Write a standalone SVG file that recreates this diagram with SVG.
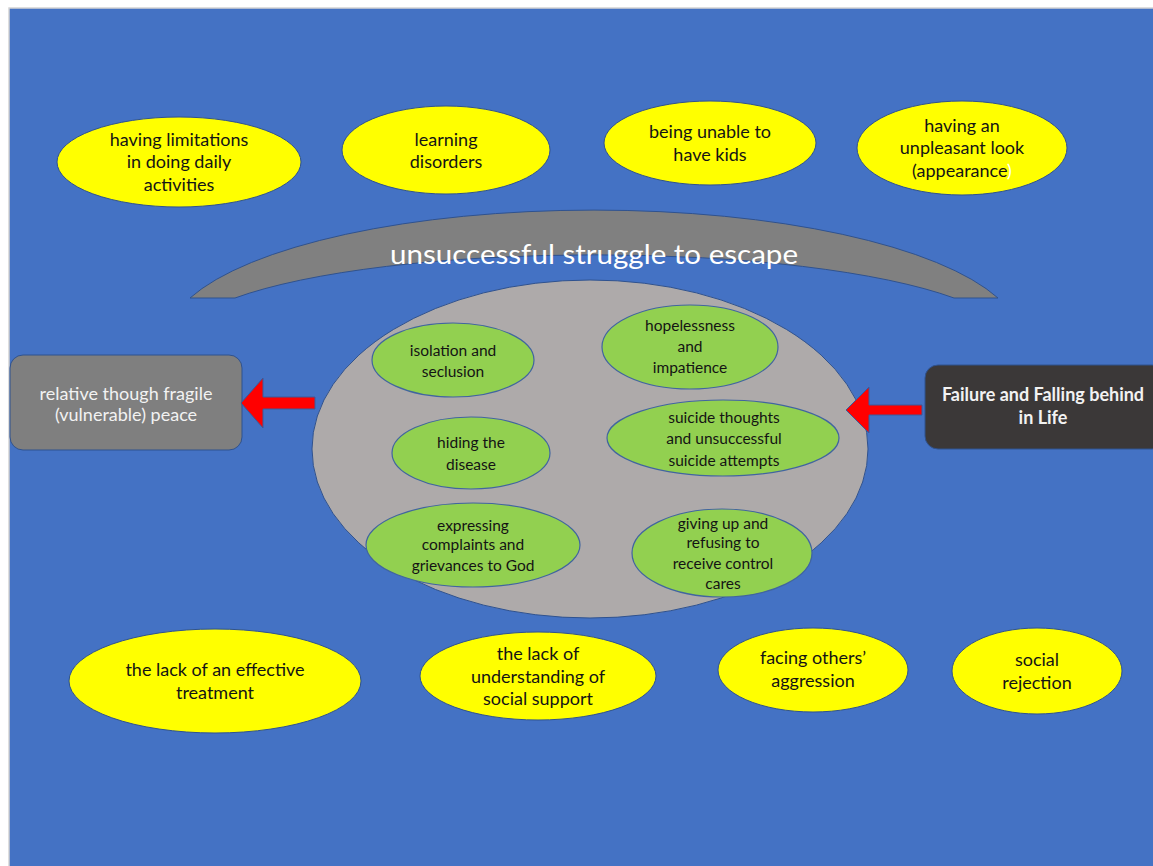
<svg xmlns="http://www.w3.org/2000/svg" width="1153" height="866" viewBox="0 0 1153 866">
<style>
.y{fill:#FFFF00;stroke:#2F528F;stroke-width:1}
.g{fill:#92D050;stroke:#41659F;stroke-width:1.2}
.ty{font-family:Lato,"Liberation Sans",sans-serif;font-size:18px;fill:#141414;text-anchor:middle}
.tg{font-family:Lato,"Liberation Sans",sans-serif;font-size:15.5px;fill:#141414;text-anchor:middle}
.tw{font-family:Lato,"Liberation Sans",sans-serif;font-size:18px;fill:#F2F2F2;text-anchor:middle}
.arr{fill:#FF0000;stroke:#3A5A9A;stroke-width:1}
</style>
<rect x="0" y="0" width="1153" height="866" fill="#FFFFFF"/>
<rect x="9" y="8" width="1150" height="865" fill="#4472C4" stroke="#D4D4D4" stroke-width="1.5"/>

<g id="arch">
<path d="M190,298 A427,130 0 0 1 998,298 L954,298 A413,85 0 0 0 235,298 Z" fill="#808080" stroke="#2F528F" stroke-width="1"/>
</g>
<g id="core">
<ellipse cx="590" cy="449" rx="278" ry="169" fill="#AEAAAA" stroke="#2F528F" stroke-width="1"/>
</g>
<g id="title">
<text x="594" y="264" font-family="Lato,'Liberation Sans',sans-serif" font-size="26" fill="#FFFFFF" text-anchor="middle" textLength="408" lengthAdjust="spacingAndGlyphs">unsuccessful struggle to escape</text>
</g>

<g id="n-limitations">
<ellipse class="y" cx="179" cy="162" rx="122" ry="45"/>
<text class="ty"><tspan x="179" y="146">having limitations</tspan><tspan x="179" y="168">in doing daily</tspan><tspan x="179" y="191">activities</tspan></text>
</g>
<g id="n-learning">
<ellipse class="y" cx="446" cy="150" rx="104" ry="44"/>
<text class="ty"><tspan x="446" y="146">learning</tspan><tspan x="446" y="168">disorders</tspan></text>
</g>
<g id="n-kids">
<ellipse class="y" cx="710" cy="143" rx="106" ry="42"/>
<text class="ty"><tspan x="710" y="138">being unable to</tspan><tspan x="710" y="161">have kids</tspan></text>
</g>
<g id="n-look">
<ellipse class="y" cx="962" cy="148" rx="105" ry="47"/>
<text class="ty"><tspan x="962" y="132">having an</tspan><tspan x="962" y="154">unpleasant look</tspan><tspan x="962" y="177">(appearance<tspan fill="#FFFFFF">)</tspan></tspan></text>
</g>

<g id="n-treatment">
<ellipse class="y" cx="215" cy="681" rx="146" ry="52"/>
<text class="ty"><tspan x="215" y="676">the lack of an effective</tspan><tspan x="215" y="699">treatment</tspan></text>
</g>
<g id="n-support">
<ellipse class="y" cx="538" cy="676" rx="118" ry="44"/>
<text class="ty"><tspan x="538" y="660">the lack of</tspan><tspan x="538" y="683">understanding of</tspan><tspan x="538" y="705">social support</tspan></text>
</g>
<g id="n-aggression">
<ellipse class="y" cx="813" cy="670" rx="95" ry="42"/>
<text class="ty"><tspan x="813" y="664">facing others’</tspan><tspan x="813" y="687">aggression</tspan></text>
</g>
<g id="n-rejection">
<ellipse class="y" cx="1037" cy="671" rx="85" ry="43"/>
<text class="ty"><tspan x="1037" y="666">social</tspan><tspan x="1037" y="689">rejection</tspan></text>
</g>

<g id="n-isolation">
<ellipse class="g" cx="453" cy="360" rx="81" ry="37"/>
<text class="tg"><tspan x="453" y="356">isolation and</tspan><tspan x="453" y="377">seclusion</tspan></text>
</g>
<g id="n-hopeless">
<ellipse class="g" cx="690" cy="347" rx="88" ry="42"/>
<text class="tg"><tspan x="690" y="331">hopelessness</tspan><tspan x="690" y="352">and</tspan><tspan x="690" y="373">impatience</tspan></text>
</g>
<g id="n-hiding">
<ellipse class="g" cx="471" cy="453" rx="79" ry="36"/>
<text class="tg"><tspan x="471" y="448">hiding the</tspan><tspan x="471" y="470">disease</tspan></text>
</g>
<g id="n-suicide">
<ellipse class="g" cx="723" cy="438" rx="116" ry="38"/>
<text class="tg"><tspan x="724" y="423">suicide thoughts</tspan><tspan x="724" y="444">and unsuccessful</tspan><tspan x="724" y="466">suicide attempts</tspan></text>
</g>
<g id="n-complaints">
<ellipse class="g" cx="473" cy="545" rx="107" ry="42"/>
<text class="tg"><tspan x="473" y="531">expressing</tspan><tspan x="473" y="550">complaints and</tspan><tspan x="473" y="571">grievances to God</tspan></text>
</g>
<g id="n-givingup">
<ellipse class="g" cx="722" cy="553" rx="90" ry="44"/>
<text class="tg"><tspan x="723" y="529">giving up and</tspan><tspan x="723" y="548">refusing to</tspan><tspan x="723" y="569">receive control</tspan><tspan x="723" y="589">cares</tspan></text>
</g>

<g id="n-peace">
<rect x="10" y="355" width="232" height="95" rx="13" fill="#7F7F7F" stroke="#2F528F" stroke-width="1"/>
<text class="tw"><tspan x="126" y="400">relative though fragile</tspan><tspan x="126" y="421">(vulnerable) peace</tspan></text>
</g>
<g id="n-failure">
<rect x="925" y="365" width="240" height="84" rx="13" fill="#3B3838" stroke="#2F528F" stroke-width="1"/>
<text class="tw" font-weight="bold"><tspan x="1043" y="401">Failure and Falling behind</tspan><tspan x="1043" y="424">in Life</tspan></text>
</g>

<g id="connectors">
<path class="arr" d="M241,403 L263,378 L263,397 L315,397 L315,409 L263,409 L263,428 Z"/>
<path class="arr" d="M846,410 L869,387 L869,405 L922,405 L922,415 L869,415 L869,433 Z"/>
</g>
</svg>
